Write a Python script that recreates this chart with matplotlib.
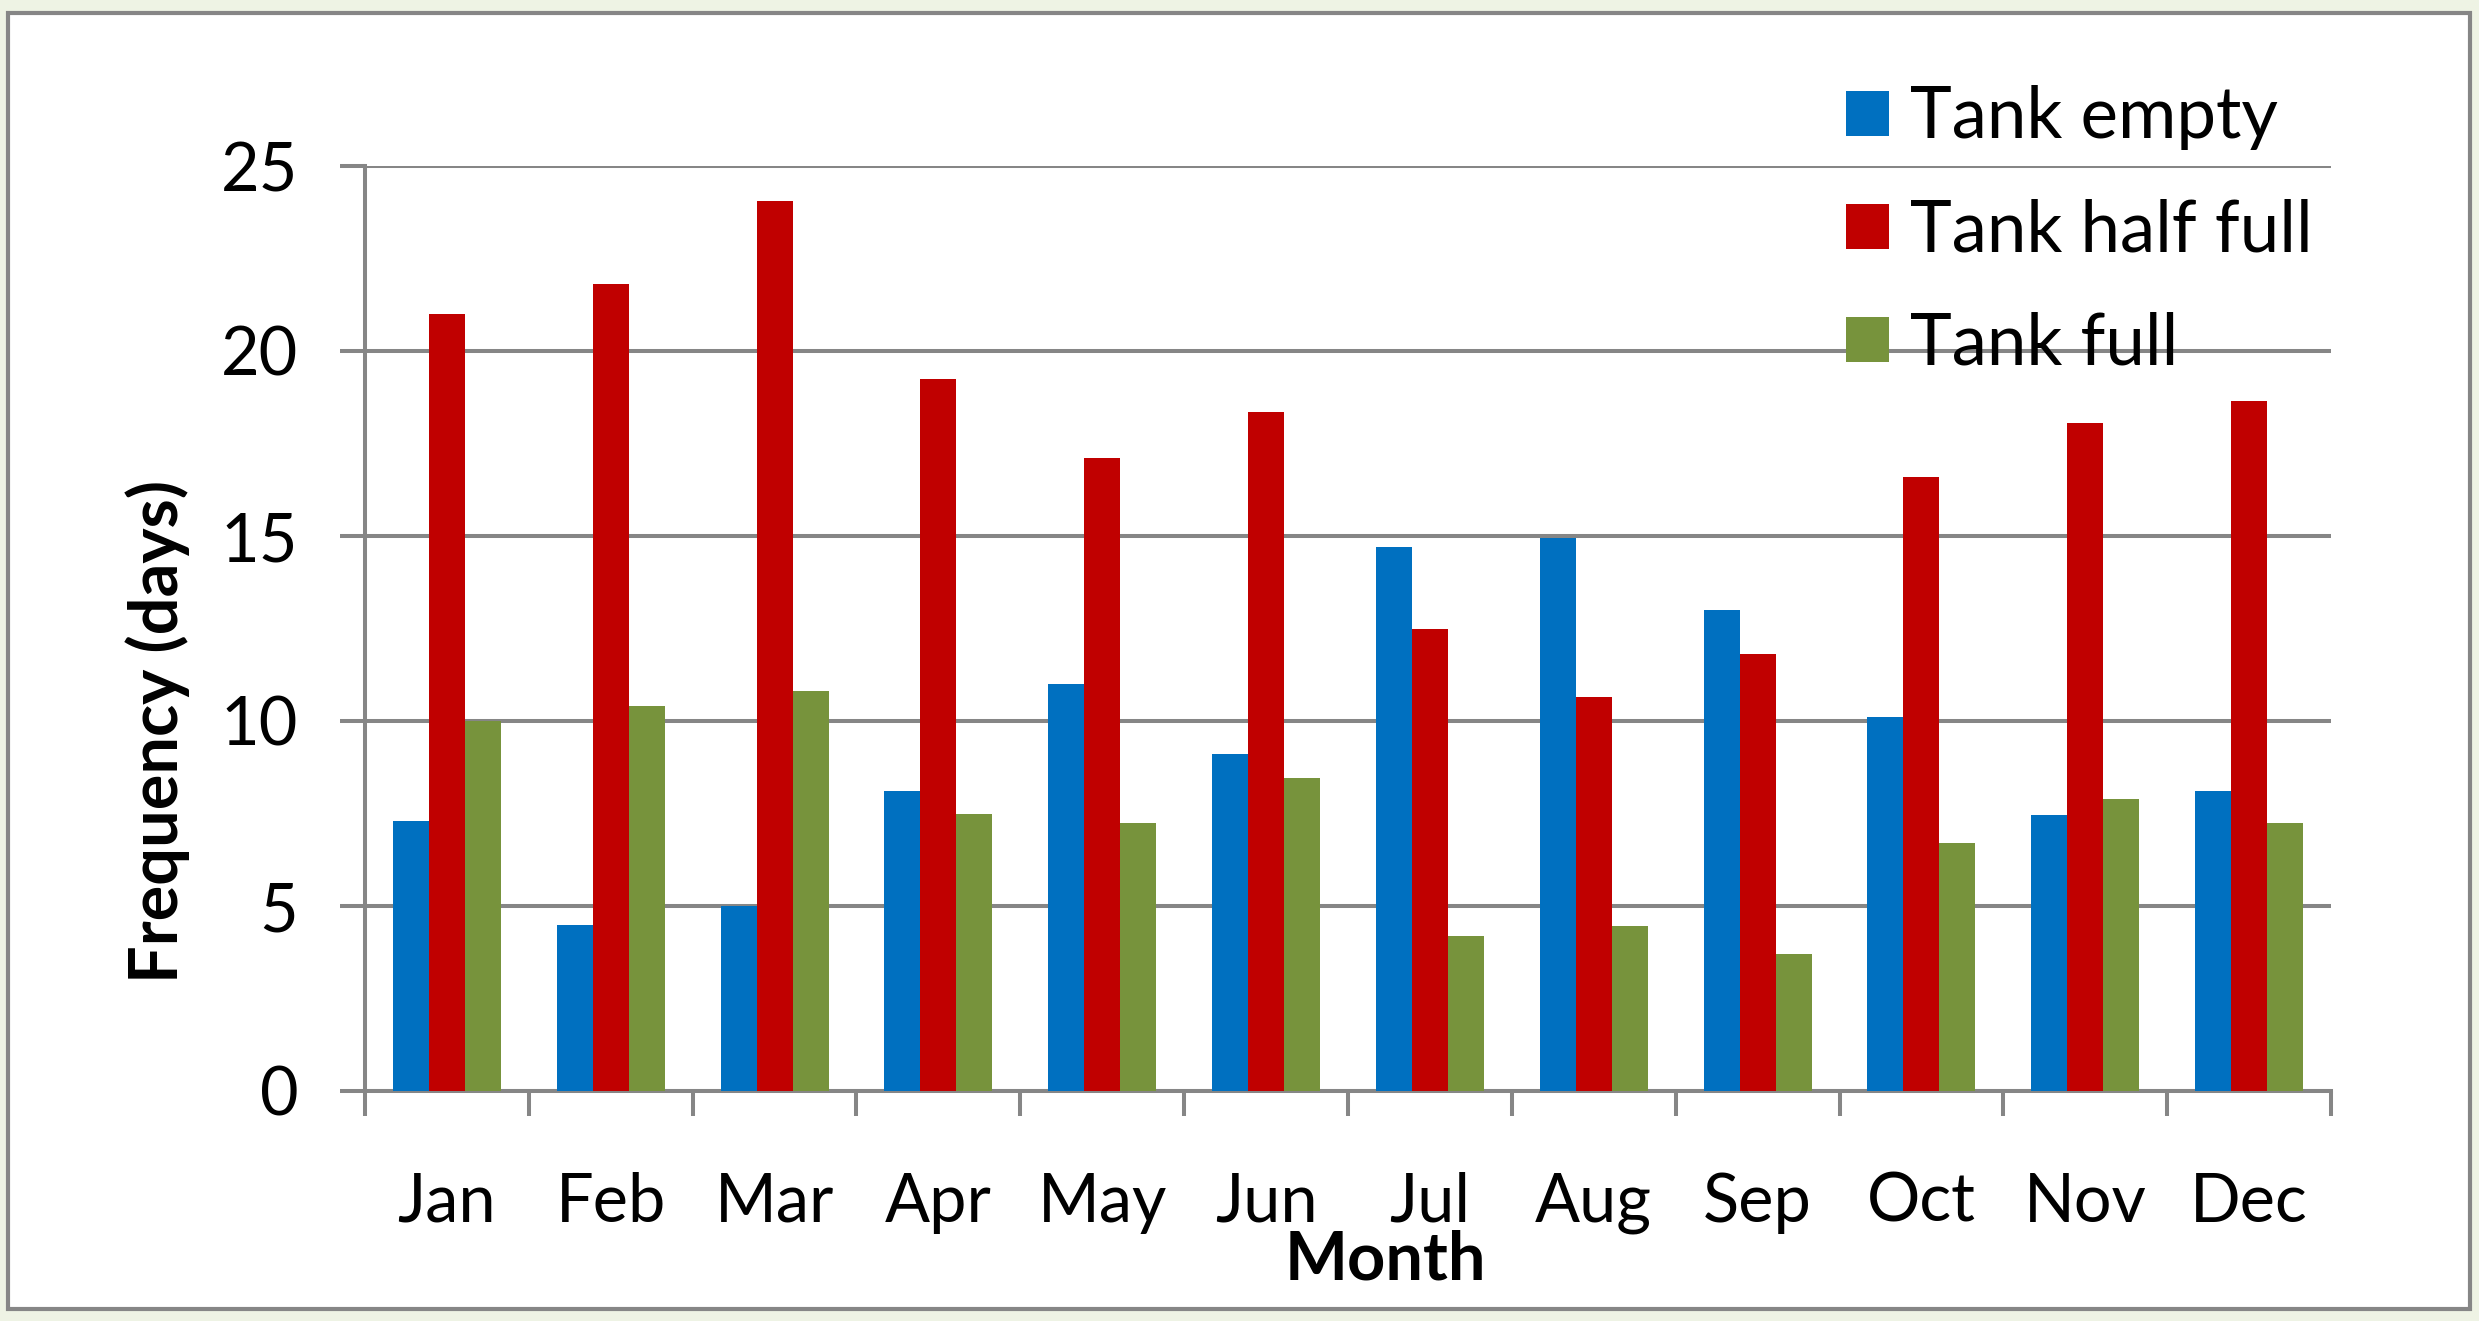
import matplotlib
matplotlib.use("Agg")
import matplotlib.pyplot as plt
from matplotlib.patches import Rectangle, Patch
import numpy as np

months = ["Jan", "Feb", "Mar", "Apr", "May", "Jun", "Jul", "Aug", "Sep", "Oct", "Nov", "Dec"]
tank_empty = [7.3, 4.5, 5.0, 8.1, 11.0, 9.1, 14.7, 14.95, 13.0, 10.1, 7.45, 8.1]
tank_half_full = [21.0, 21.8, 24.05, 19.25, 17.1, 18.35, 12.5, 10.65, 11.8, 16.6, 18.05, 18.65]
tank_full = [10.0, 10.4, 10.8, 7.5, 7.25, 8.45, 4.2, 4.45, 3.7, 6.7, 7.9, 7.25]
series_names = ["Tank empty", "Tank half full", "Tank full"]
colors = ["#0070C0", "#C00000", "#77933C"]
y_ticks = [0, 5, 10, 15, 20, 25]

plt.rcParams['font.family'] = ['Lato', 'DejaVu Sans']
FS = 48
LFS = 51
GRAY = "#868686"
LW = 2.9

W, H = 2479, 1321
fig = plt.figure(figsize=(W / 100, H / 100), dpi=100)
fig.patch.set_facecolor("#EEF3E4")
# chart frame
fig.add_artist(Rectangle((8 / W, 1 - 1309 / H), (2470 - 8) / W, (1309 - 13) / H,
                         transform=fig.transFigure, facecolor="white",
                         edgecolor=GRAY, linewidth=3.0, zorder=0))

ax = fig.add_axes([365 / W, 1 - 1091 / H, (2331 - 365) / W, (1091 - 166) / H])
ax.set_facecolor("none")

x = np.arange(len(months))
bw = 0.22
for i, (vals, c, name) in enumerate(zip([tank_empty, tank_half_full, tank_full], colors, series_names)):
    ax.bar(x + (i - 1) * bw, vals, width=bw, color=c, label=name, zorder=3)

ax.set_xlim(-0.5, len(months) - 0.5)
ax.set_ylim(0, 25)
ax.set_yticks(y_ticks)
ax.set_yticklabels([str(v) for v in y_ticks], fontsize=FS)
ax.yaxis.grid(True, color=GRAY, linewidth=LW, zorder=1)
ax.set_axisbelow(True)

ax.set_xticks(np.arange(-0.5, len(months), 1.0))
ax.set_xticklabels([])
ax.set_xticks(x, minor=True)
ax.set_xticklabels(months, minor=True, fontsize=FS)
ax.tick_params(axis='x', which='major', length=18, width=LW, color=GRAY, direction='out')
ax.tick_params(axis='x', which='minor', length=0, pad=58)
ax.tick_params(axis='y', which='major', length=18, width=LW, color=GRAY, direction='out', pad=30)

for s in ["top", "right"]:
    ax.spines[s].set_visible(False)
for s in ["left", "bottom"]:
    ax.spines[s].set_color(GRAY)
    ax.spines[s].set_linewidth(LW)

fig.text(158 / W, 1 - 731 / H, "Frequency (days)", rotation=90, fontsize=FS,
         fontweight='bold', ha='center', va='center')
fig.text(1385 / W, 1 - 1260 / H, "Month", fontsize=FS, fontweight='bold',
         ha='center', va='center')

handles = [Patch(facecolor=c, edgecolor='none') for c in colors]
leg = ax.legend(handles, series_names, loc='upper left', bbox_to_anchor=(1846 / W, 1 - 85 / H),
                bbox_transform=fig.transFigure, frameon=False, fontsize=LFS,
                handlelength=0.6, handleheight=0.6, handletextpad=0.3,
                labelspacing=0.68, borderpad=0, borderaxespad=0)

fig.savefig("out.png", dpi=100, facecolor=fig.get_facecolor())
